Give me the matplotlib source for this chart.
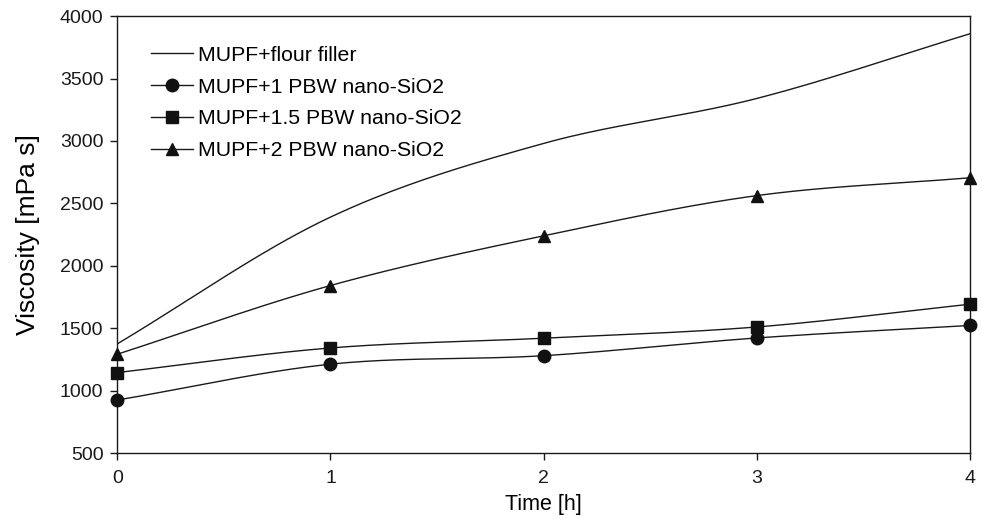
import numpy as np
import matplotlib
matplotlib.use("Agg")
import matplotlib.pyplot as plt
from matplotlib.lines import Line2D

plt.rcParams['font.family'] = ['Liberation Sans', 'DejaVu Sans']

time_h = [0, 1, 2, 3, 4]
flour = [1375, 2390, 2980, 3340, 3858]
pbw1 = [925, 1212, 1280, 1422, 1522]
pbw15 = [1145, 1342, 1420, 1510, 1692]
pbw2 = [1292, 1842, 2240, 2562, 2705]
labels = ["MUPF+flour filler", "MUPF+1 PBW nano-SiO2",
          "MUPF+1.5 PBW nano-SiO2", "MUPF+2 PBW nano-SiO2"]


def smooth(x, y, n=40):
    # Catmull-Rom style smoothing (Excel "smoothed line") through the data points
    x = np.asarray(x, float); y = np.asarray(y, float)
    px = np.concatenate([[2*x[0]-x[1]], x, [2*x[-1]-x[-2]]])
    py = np.concatenate([[2*y[0]-y[1]], y, [2*y[-1]-y[-2]]])
    xs, ys = [], []
    t = np.linspace(0, 1, n)
    for i in range(1, len(px)-2):
        p0, p1, p2, p3 = [np.array([px[j], py[j]]) for j in range(i-1, i+3)]
        m1 = (p2 - p0) / 6.0
        m2 = (p3 - p1) / 6.0
        b0, b1, b2, b3 = p1, p1 + m1, p2 - m2, p2
        pts = ((1-t)**3)[:, None]*b0 + (3*(1-t)**2*t)[:, None]*b1 + (3*(1-t)*t**2)[:, None]*b2 + (t**3)[:, None]*b3
        xs.extend(pts[:, 0]); ys.extend(pts[:, 1])
    return np.array(xs), np.array(ys)


fig = plt.figure(figsize=(9.82, 5.19), dpi=100)
ax = fig.add_axes([0.1195, 0.127, 0.868, 0.842])

series = [(flour, None), (pbw1, 'o'), (pbw15, 's'), (pbw2, '^')]
handles = []
for (vals, mk), lab in zip(series, labels):
    sx, sy = smooth(time_h, vals)
    ax.plot(sx, sy, color='#1a1a1a', lw=1.0, zorder=2)
    if mk:
        ax.plot(time_h, vals, linestyle='none', marker=mk, color='#111111',
                markersize=9 if mk != 's' else 8.5, zorder=3, clip_on=False)
    handles.append(Line2D([], [], color='#1a1a1a', lw=1.0, marker=mk,
                          markersize=(9 if mk != 's' else 8.5) if mk else 0,
                          markerfacecolor='#111111', markeredgecolor='#111111'))

ax.set_xlim(0, 4)
ax.set_ylim(500, 4000)
ax.set_xticks(time_h)
ax.set_yticks(np.arange(500, 4001, 500))
ax.tick_params(direction='out', length=5, width=1, labelsize=14, colors='#1a1a1a')
ax.tick_params(axis='x', pad=7)
ax.tick_params(axis='y', pad=5)
for s in ax.spines.values():
    s.set_color('#1a1a1a'); s.set_linewidth(1.0)
ax.set_xlabel("Time [h]", fontsize=15.5, labelpad=5)
ax.set_ylabel("Viscosity [mPa s]", fontsize=19, labelpad=14)

leg = ax.legend(handles, labels, loc='upper left', bbox_to_anchor=(0.039, 0.932),
                frameon=False, fontsize=15.3, handlelength=2.0, handletextpad=0.25,
                labelspacing=0.6, borderaxespad=0, borderpad=0)

fig.savefig("out.png", dpi=100)
